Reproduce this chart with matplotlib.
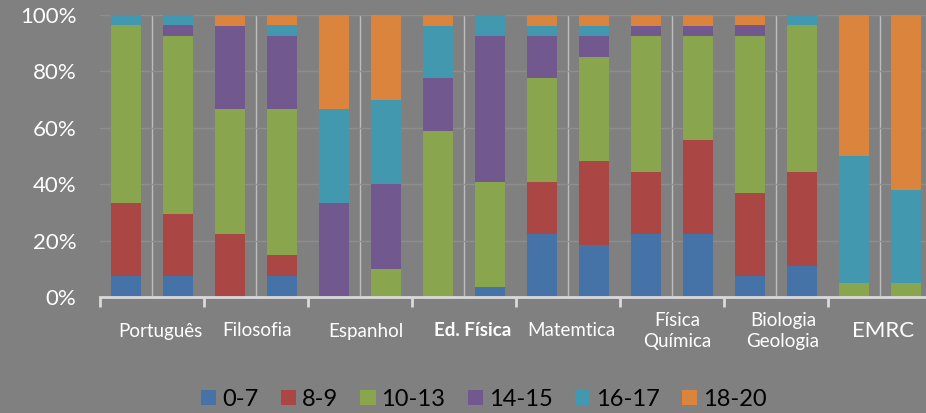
import numpy as np
import matplotlib
matplotlib.use('Agg')
from matplotlib import pyplot as plt
from matplotlib.ticker import FixedLocator

# percent of students per grade band, two bars per subject
subjects = ['Português', 'Filosofia', 'Espanhol', 'Ed. Física', 'Matemtica',
            'Física\nQuímica', 'Biologia\nGeologia', 'EMRC']
bands = ['0-7', '8-9', '10-13', '14-15', '16-17', '18-20']

p_0_7 = [7.4, 7.4, 0, 7.4, 0, 0, 0, 3.7, 22.2, 18.5, 22.2, 22.2, 7.4, 11.1, 0, 0]
p_8_9 = [25.9, 22.2, 22.2, 7.4, 0, 0, 0, 0, 18.5, 29.6, 22.2, 33.3, 29.6, 33.3, 0, 0]
p_10_13 = [63.0, 63.0, 44.4, 51.9, 0, 10, 59, 37.0, 37.0, 37.0, 48.1, 37.0, 55.6, 51.9, 5, 4.8]
p_14_15 = [0, 3.7, 29.6, 25.9, 33.3, 30, 18.5, 51.9, 14.8, 7.4, 3.7, 3.7, 3.7, 0, 0, 0]
p_16_17 = [3.7, 3.7, 0, 3.7, 33.3, 30, 18.5, 7.4, 3.7, 3.7, 0, 0, 0, 3.7, 45, 33.3]
p_18_20 = [0, 0, 3.7, 3.7, 33.4, 30, 4, 0, 3.7, 3.7, 3.7, 3.7, 3.7, 0, 50, 61.9]

series = [p_0_7, p_8_9, p_10_13, p_14_15, p_16_17, p_18_20]
colors = ['#4572A7', '#AA4643', '#89A54E', '#71588F', '#4198AF', '#DB843D']

plt.rcParams['font.family'] = ['Lato', 'DejaVu Sans']

fig = plt.figure(figsize=(9.26, 4.13), dpi=100, facecolor='#808080')
ax = fig.add_axes([100/926, 1 - 297/413, 826/926, 282/413])
ax.set_facecolor('#808080')

x = np.arange(len(p_0_7))
bottom = np.zeros(len(x))
for vals, col, lab in zip(series, colors, bands):
    vals = np.array(vals, dtype=float)
    ax.bar(x, vals, 0.58, bottom=bottom, color=col, label=lab, zorder=3)
    bottom += vals

ax.set_ylim(0, 100)
ax.set_xlim(-0.5, -0.5 + 826/52)

ax.set_yticks(range(0, 101, 20))
ax.set_yticklabels([f'{v}%' for v in range(0, 101, 20)], color='white', fontsize=16)
ax.tick_params(axis='y', length=0, pad=17)
ax.grid(axis='y', color='#8E8E8E', linewidth=1, zorder=0)

# vertical separators between every bar, ticks at subject boundaries
ax.xaxis.set_minor_locator(FixedLocator(np.arange(-0.5, 16, 1)))
ax.xaxis.set_major_locator(FixedLocator(np.arange(-0.5, 16, 2)))
ax.grid(axis='x', which='minor', color='#BDBDBD', linewidth=1, zorder=1)
ax.set_xticklabels([])
ax.tick_params(axis='x', which='major', length=7, width=2, color='#D9D9D9', direction='out')
ax.tick_params(axis='x', which='minor', length=0)

for s in ['left', 'right', 'top']:
    ax.spines[s].set_visible(False)
ax.spines['bottom'].set_color('#D9D9D9')
ax.spines['bottom'].set_linewidth(2)
ax.spines['bottom'].set_zorder(4)

# subject labels (not exactly centred under the groups in the original)
label_x = [160, 257, 366, 473, 571, 677, 783, 883]
for name, px in zip(subjects, label_x):
    kw = dict(color='white', ha='center', va='center', fontsize=13.5,
              linespacing=1.3)
    if name == 'Ed. Física':
        kw['fontweight'] = 'bold'
    if name == 'EMRC':
        kw['fontsize'] = 16
    fig.text(px/926, 1 - 331/413, name, **kw)

fig.legend(loc='center', bbox_to_anchor=(484/926, 1 - 399/413), ncol=6,
           frameon=False, fontsize=17, handlelength=0.64, handleheight=0.6,
           handletextpad=0.25, columnspacing=0.95, labelcolor='black',
           borderpad=0, borderaxespad=0)

fig.savefig('out.png', dpi=100, facecolor=fig.get_facecolor())
plt.close()
